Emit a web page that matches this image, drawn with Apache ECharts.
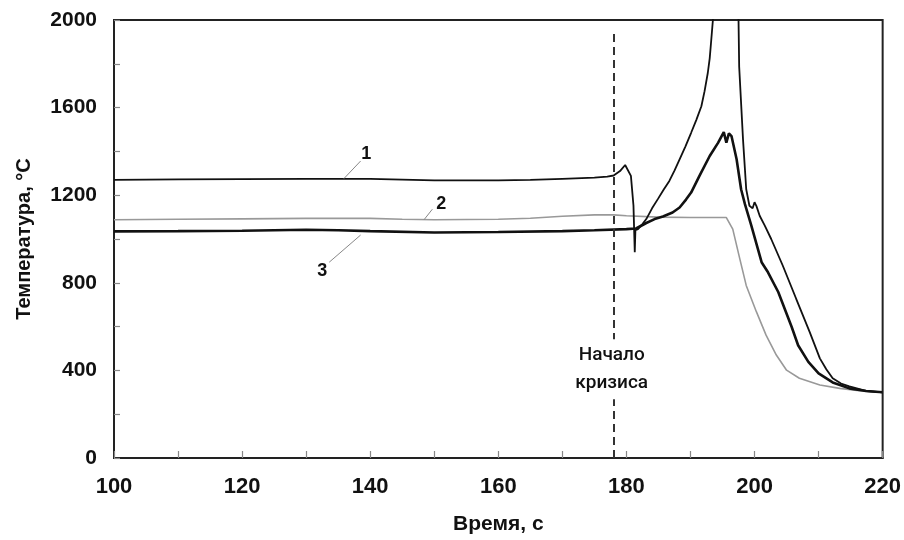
<!DOCTYPE html>
<html>
<head>
<meta charset="utf-8">
<script src="https://cdn.jsdelivr.net/npm/echarts@6/dist/echarts.min.js"></script>
<style>html,body{margin:0;padding:0;background:#fff;}#c{width:904px;height:540px;}</style>
</head>
<body>
<div id="c"></div>
<script>
// Series 1 (upper black line)
const t1 = [100,110,120,130,140,150,160,165,170,175,177,178,179,179.8,180.7,181.1,181.2,181.3,181.4,181.8,182.5,183.1,184,184.9,185.8,186.7,187.5,188.3,189.2,190.1,190.9,191.7,192.2,192.7,193.0,193.2,193.5,194,195,195.8,196.6,197.3,197.5,197.6,198.2,198.7,199.2,199.7,200,200.3,200.8,201.6,202.6,204.4,206.5,208.6,210.2,211.2,212.2,213.5,214.8,217.4,220];
const T1 = [1270,1272,1273,1275,1275,1268,1268,1270,1275,1280,1285,1290,1310,1338,1288,1152,1045,940,1040,1045,1068,1091,1140,1182,1225,1265,1312,1364,1422,1485,1543,1606,1675,1758,1825,1894,2000,2250,2700,2900,2700,2200,2000,1788,1455,1227,1152,1140,1168,1150,1106,1061,1000,879,727,576,455,405,364,340,327,306,300];
// Series 2 (grey line)
const t2 = [100,110,120,130,140,145,150,160,165,170,175,178,180,185,190,195,195.6,196.6,197.7,198.7,200.3,201.8,203.4,205,207,210.2,213.3,216,220];
const T2 = [1088,1090,1092,1094,1094,1090,1088,1090,1095,1104,1110,1110,1106,1100,1098,1098,1098,1045,909,788,667,561,470,401,364,333,318,308,300];
// Series 3 (thick black line)
const t3 = [100,110,120,125,130,135,140,150,160,170,175,180,181.5,183.1,184.4,185.7,187.2,188.3,189.3,190.1,191.4,193,194.3,195.2,195.6,196,196.4,197.2,197.9,198.5,199.5,201.1,202.1,203.7,205.8,206.8,208.4,210,212.2,214.8,217.4,220];
const T3 = [1035,1036,1038,1040,1042,1040,1036,1030,1032,1036,1040,1045,1048,1073,1091,1103,1121,1144,1180,1212,1288,1379,1439,1488,1440,1482,1470,1364,1227,1159,1061,894,848,758,598,515,439,386,345,318,306,300];

const xTicks = [100,220,20];
const yTicks = [0,2000,400];
const crisisTime = 178;
const crisisTop = 1940;
const crisisText = 'Начало\nкризиса';
const crisisTextPos = [177.7, 405];
const seriesLabels = ['1','2','3'];
const labelPos = [[139.4,1386],[151.1,1159],[132.5,855]];
const leaderFrom = [[138.5,1356],[149.7,1136],[138.5,1018]];
const leaderTo = [[135.9,1276],[148.4,1088],[133.6,894]];

const zip = (a,b) => a.map((v,i)=>[v,b[i]]);
const FONT = "'Liberation Sans', Arial, sans-serif";

const chart = echarts.init(document.getElementById('c'), null, {renderer:'canvas'});
chart.setOption({
  animation:false,
  backgroundColor:'#fff',
  grid:{left:114,right:21,top:20,bottom:77,show:true,borderColor:'#222',borderWidth:2,backgroundColor:'transparent'},
  xAxis:{type:'value',min:xTicks[0],max:xTicks[1],interval:xTicks[2],
    name:'Время, с',nameLocation:'middle',nameGap:56,
    nameTextStyle:{fontFamily:FONT,fontWeight:'bold',fontSize:21,color:'#111'},
    axisLine:{show:true,lineStyle:{color:'#222',width:2}},
    axisTick:{show:true,inside:true,length:7,lineStyle:{color:'#888',width:1.2}},
    minorTick:{show:true,splitNumber:2,length:7,lineStyle:{color:'#888',width:1.2}},
    splitLine:{show:false},
    axisLabel:{margin:18,fontFamily:FONT,fontWeight:'bold',fontSize:22,color:'#111',formatter:v=>String(v)}},
  yAxis:{type:'value',min:yTicks[0],max:yTicks[1],interval:yTicks[2],
    name:'Температура, °С',nameLocation:'middle',nameGap:80,nameRotate:90,
    nameTextStyle:{fontFamily:FONT,fontWeight:'bold',fontSize:20,color:'#111'},
    axisLine:{show:true,lineStyle:{color:'#222',width:2}},
    axisTick:{show:true,inside:true,length:6,lineStyle:{color:'#888',width:1.2}},
    minorTick:{show:true,splitNumber:2,length:6,lineStyle:{color:'#888',width:1.2}},
    splitLine:{show:false},
    axisLabel:{margin:17,fontFamily:FONT,fontWeight:'bold',fontSize:21,color:'#111',formatter:v=>String(v)}},
  series:[
    {type:'line',name:'2',data:zip(t2,T2),showSymbol:false,symbol:'none',clip:true,
      lineStyle:{color:'#999',width:1.6},z:2},
    {type:'line',name:'3',data:zip(t3,T3),showSymbol:false,symbol:'none',clip:true,
      lineStyle:{color:'#111',width:2.6},z:3},
    {type:'line',name:'1',data:zip(t1,T1),showSymbol:false,symbol:'none',clip:true,
      lineStyle:{color:'#111',width:1.8},z:4,
      markLine:{silent:true,symbol:'none',animation:false,label:{show:false},
        data:[
          [{coord:[crisisTime,0],lineStyle:{color:'#333',width:2,type:[8,5]}},{coord:[crisisTime,crisisTop]}],
          ...leaderFrom.map((p,i)=>[{coord:p,lineStyle:{color:'#888',width:1,type:'solid'}},{coord:leaderTo[i]}])
        ]},
      markPoint:{silent:true,symbol:'circle',symbolSize:0,animation:false,
        data:[
          {coord:crisisTextPos,label:{show:true,position:'inside',formatter:crisisText,fontFamily:"Roboto, sans-serif",fontWeight:500,fontSize:19,lineHeight:28,color:'#111',backgroundColor:'#fff',padding:[2,2]}},
          ...labelPos.map((p,i)=>({coord:p,label:{show:true,position:'inside',formatter:seriesLabels[i],fontFamily:FONT,fontWeight:'bold',fontSize:18,color:'#111'}}))
        ]}
    }
  ]
});
</script>
</body>
</html>
